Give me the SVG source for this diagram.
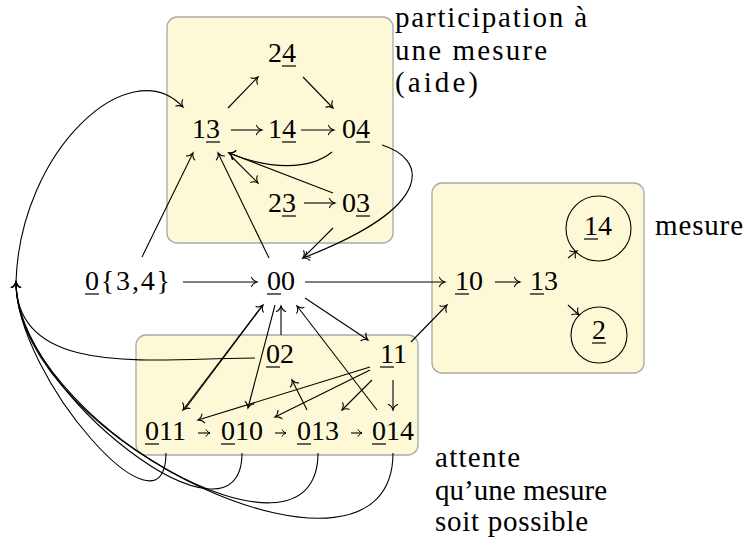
<svg xmlns="http://www.w3.org/2000/svg" width="745" height="548" viewBox="0 0 745 548">
  <style>
    .box { fill: #fdf9d6; stroke: #a8a8a8; stroke-width: 1.3; }
    .m { font-family: 'Liberation Serif', 'Times New Roman', serif; font-size: 28px; fill: #000; }
    .lbl { font-family: 'Liberation Serif', 'Times New Roman', serif; font-size: 29px; fill: #000; }
    .ul { stroke: #000; stroke-width: 1.2; }
    .e { fill: none; stroke: #000; stroke-width: 1.1; marker-end: url(#to); }
    .es { fill: none; stroke: #000; stroke-width: 1.1; marker-end: url(#tos); }
    .circ { fill: none; stroke: #000; stroke-width: 1.1; }
  </style>
  <defs>
    <marker id="to" markerUnits="userSpaceOnUse" markerWidth="12" markerHeight="12" refX="0" refY="0" orient="auto" overflow="visible">
      <path d="M-5.5,-4.6 C-4.6,-2 -1.6,-0.5 0,0 C-1.6,0.5 -4.6,2 -5.5,4.6" fill="none" stroke="#000" stroke-width="1.1" stroke-linecap="round"/>
    </marker>
    <marker id="tos" markerUnits="userSpaceOnUse" markerWidth="8" markerHeight="8" refX="0" refY="0" orient="auto" overflow="visible">
      <path d="M-3.8,-3.2 C-3.2,-1.4 -1.1,-0.35 0,0 C-1.1,0.35 -3.2,1.4 -3.8,3.2" fill="none" stroke="#000" stroke-width="1" stroke-linecap="round"/>
    </marker>
  </defs>

  <rect width="745" height="548" fill="#fff"/>

  <!-- state groups -->
  <g id="box-aide"><rect class="box" x="167" y="17" width="226" height="226" rx="10"/></g>
  <g id="box-mesure"><rect class="box" x="432" y="183" width="212" height="190" rx="10"/></g>
  <g id="box-attente"><rect class="box" x="136" y="335" width="282" height="120" rx="10"/></g>

  <!-- region labels -->
  <g id="label-aide">
    <text class="lbl" x="395" y="27" textLength="192" lengthAdjust="spacing">participation à</text>
    <text class="lbl" x="395" y="60" textLength="152" lengthAdjust="spacing">une mesure</text>
    <text class="lbl" x="395" y="92" textLength="83" lengthAdjust="spacing">(aide)</text>
  </g>
  <g id="label-mesure">
    <text class="lbl" x="655" y="235" textLength="88" lengthAdjust="spacing">mesure</text>
  </g>
  <g id="label-attente">
    <text class="lbl" x="435" y="467" textLength="85" lengthAdjust="spacing">attente</text>
    <text class="lbl" x="435" y="500" textLength="172" lengthAdjust="spacing">qu’une mesure</text>
    <text class="lbl" x="435" y="531" textLength="153" lengthAdjust="spacing">soit possible</text>
  </g>

  <!-- connectors -->
  <g id="edges">
    <!-- inside the upper group -->
    <path class="e" d="M228,108 L258,77"/>
    <path class="e" d="M303,77 L333,108"/>
    <path class="e" d="M231,130 L262,130"/>
    <path class="e" d="M301,130 L334,130"/>
    <path class="e" d="M304,203 L335,203"/>
    <path class="e" d="M332,152 C310,170 270,170 229,153"/>
    <path class="e" d="M333,193 L229,153"/>
    <path class="e" d="M232,157 L258,183"/>
    <!-- towards 00 -->
    <path class="e" d="M382,145 C425,158 440,205 303,258"/>
    <path class="e" d="M333,228 L303,258"/>
    <!-- towards 13 -->
    <path class="e" d="M269,258 L218,153"/>
    <path class="e" d="M142,257 L193,153"/>
    <!-- main row -->
    <path class="e" d="M183,282 L257,282"/>
    <path class="e" d="M305,282 L445,282"/>
    <!-- measuring group -->
    <path class="e" d="M495,282 L520,282"/>
    <path class="e" d="M568,258 L577,251"/>
    <path class="e" d="M568,305 L579,315"/>
    <!-- between 00 and the waiting group -->
    <path class="e" d="M185,409 L263,305"/>
    <path class="e" d="M262,306 L183,410"/>
    <path class="e" d="M275,305 L248,408"/>
    <path class="e" d="M281,335 L281,306"/>
    <path class="e" d="M377,410 L297,306"/>
    <path class="e" d="M305,298 L368,340"/>
    <path class="e" d="M411,342 L447,305"/>
    <!-- inside the waiting group -->
    <path class="e" d="M370,367 L198,420"/>
    <path class="e" d="M370,370 L275,417"/>
    <path class="e" d="M372,380 L342,410"/>
    <path class="e" d="M393,380 L393,410"/>
    <path class="e" d="M307,410 L292,380"/>
    <path class="es" d="M198,433 L210,433"/>
    <path class="es" d="M275,433 L286,433"/>
    <path class="es" d="M351,433 L362,433"/>
    <!-- returns through the left junction -->
    <path class="e" d="M255,358 C157,358 16,380 16,282"/>
    <path class="e" d="M166,453 C166,548 16,377 16,282"/>
    <path class="e" d="M242,453 C242,564 16,393 16,282"/>
    <path class="e" d="M318,453 C318,589 16,418 16,282"/>
    <path class="e" d="M393,453 C393,615 16,444 16,282"/>
    <path class="e" d="M16,282 C20,150 130,50 183,107"/>
  </g>

  <!-- upper group states -->
  <g id="n-24"><text class="m" x="268" y="62">24</text><line class="ul" x1="282" y1="66" x2="296" y2="66"/></g>
  <g id="n-13"><text class="m" x="192" y="138">13</text><line class="ul" x1="206" y1="142" x2="220" y2="142"/></g>
  <g id="n-14"><text class="m" x="268" y="138">14</text><line class="ul" x1="282" y1="142" x2="296" y2="142"/></g>
  <g id="n-04"><text class="m" x="342" y="138">04</text><line class="ul" x1="356" y1="142" x2="370" y2="142"/></g>
  <g id="n-23"><text class="m" x="268" y="212">23</text><line class="ul" x1="282" y1="216" x2="296" y2="216"/></g>
  <g id="n-03"><text class="m" x="342" y="212">03</text><line class="ul" x1="356" y1="216" x2="370" y2="216"/></g>

  <!-- main row states -->
  <g id="n-0-34"><text class="m" x="85" y="290" textLength="85" lengthAdjust="spacing">0{3,4}</text><line class="ul" x1="85" y1="294" x2="99" y2="294"/></g>
  <g id="n-00"><text class="m" x="267" y="290">00</text><line class="ul" x1="267" y1="294" x2="281" y2="294"/></g>

  <!-- measuring group states -->
  <g id="n-10"><text class="m" x="455" y="290">10</text><line class="ul" x1="455" y1="294" x2="469" y2="294"/></g>
  <g id="n-1-13"><text class="m" x="530" y="290">13</text><line class="ul" x1="530" y1="294" x2="544" y2="294"/></g>
  <g id="n-1-14"><circle class="circ" cx="598.5" cy="228.5" r="32.5"/><text class="m" x="584" y="235">14</text><line class="ul" x1="584" y1="239" x2="598" y2="239"/></g>
  <g id="n-2"><circle class="circ" cx="599" cy="335" r="28"/><text class="m" x="592" y="339">2</text><line class="ul" x1="592" y1="343" x2="606" y2="343"/></g>

  <!-- waiting group states -->
  <g id="n-02"><text class="m" x="266" y="363">02</text><line class="ul" x1="266" y1="367" x2="280" y2="367"/></g>
  <g id="n-11"><text class="m" x="380" y="363">11</text><line class="ul" x1="380" y1="367" x2="394" y2="367"/></g>
  <g id="n-011"><text class="m" x="145" y="440">011</text><line class="ul" x1="145" y1="444" x2="159" y2="444"/></g>
  <g id="n-010"><text class="m" x="221" y="440">010</text><line class="ul" x1="221" y1="444" x2="235" y2="444"/></g>
  <g id="n-013"><text class="m" x="297" y="440">013</text><line class="ul" x1="297" y1="444" x2="311" y2="444"/></g>
  <g id="n-014"><text class="m" x="372" y="440">014</text><line class="ul" x1="372" y1="444" x2="386" y2="444"/></g>
</svg>
